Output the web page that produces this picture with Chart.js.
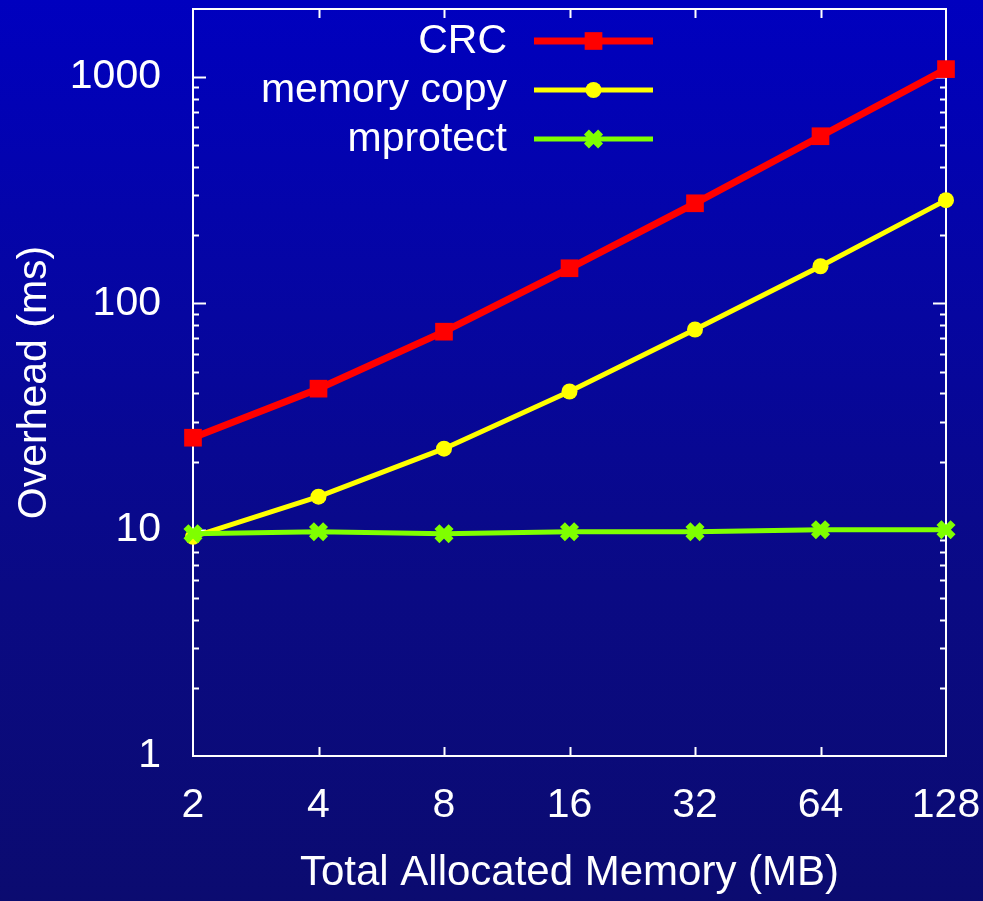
<!DOCTYPE html>
<html>
<head>
<meta charset="utf-8">
<title>Overhead vs Total Allocated Memory</title>
<script src="https://cdn.jsdelivr.net/npm/chart.js@4/dist/chart.umd.min.js"></script>
<style>
  html, body { margin: 0; padding: 0; }
  body {
    width: 983px; height: 901px; overflow: hidden;
    background: linear-gradient(180deg, #0000bf 0%, #0606a0 35%, #0a0a84 65%, #0b0b70 100%);
  }
  #wrap { position: relative; width: 983px; height: 901px; }
</style>
</head>
<body>
<div id="wrap"><canvas id="chart" width="983" height="901"></canvas></div>
<script>
// Overhead (ms) per total allocated memory, log-log style plot
const memorySizes = ['2', '4', '8', '16', '32', '64', '128'];
const crcMs = [25.5, 42, 75, 143, 277, 548, 1085];
const memcpyMs = [9.3, 14, 22.8, 40.8, 76.7, 146, 286];
const mprotectMs = [9.6, 9.8, 9.6, 9.8, 9.8, 10.0, 10.0];
const yTickValues = [1, 10, 100, 1000];
const yMinorValues = [2, 3, 4, 5, 6, 7, 8, 9, 20, 30, 40, 50, 60, 70, 80, 90,
  200, 300, 400, 500, 600, 700, 800, 900, 2000];

const FONT = 'Liberation Sans, Arial, Helvetica, sans-serif';

// gnuplot-like frame: full box, inward ticks on all sides (drawn under the lines)
const framePlugin = {
  id: 'frame',
  beforeDatasetsDraw(chart) {
    const { ctx, chartArea: a, scales } = chart;
    const x = scales.x, y = scales.y;
    ctx.save();
    ctx.strokeStyle = '#ffffff';
    ctx.lineWidth = 2;
    ctx.strokeRect(a.left, a.top, a.right - a.left, a.bottom - a.top);
    ctx.beginPath();
    yTickValues.forEach(v => {
      const py = Math.round(y.getPixelForValue(v)) + 0.5;
      if (py < a.top + 1 || py > a.bottom - 1) return;
      ctx.moveTo(a.left, py); ctx.lineTo(a.left + 13, py);
      ctx.moveTo(a.right, py); ctx.lineTo(a.right - 13, py);
    });
    yMinorValues.forEach(v => {
      const py = Math.round(y.getPixelForValue(v)) + 0.5;
      if (py < a.top + 1) return;
      ctx.moveTo(a.left, py); ctx.lineTo(a.left + 6, py);
      ctx.moveTo(a.right, py); ctx.lineTo(a.right - 6, py);
    });
    memorySizes.forEach((_, i) => {
      const px = Math.round(x.getPixelForValue(i)) + 0.5;
      if (px < a.left + 1 || px > a.right - 1) return;
      ctx.moveTo(px, a.bottom); ctx.lineTo(px, a.bottom - 9);
      ctx.moveTo(px, a.top); ctx.lineTo(px, a.top + 9);
    });
    ctx.stroke();
    ctx.restore();
  }
};

// legend in the top of the plot: right aligned label, line sample, marker
const legendPlugin = {
  id: 'keyBox',
  afterDatasetsDraw(chart) {
    const { ctx } = chart;
    const textRight = 507, lineL = 534, lineR = 653, rowY = [41, 90, 139];
    ctx.save();
    ctx.font = '41px ' + FONT;
    ctx.textAlign = 'right';
    ctx.textBaseline = 'middle';
    chart.data.datasets.forEach((ds, i) => {
      const yy = rowY[i];
      ctx.fillStyle = '#ffffff';
      ctx.fillText(ds.label, textRight, yy + 1);
      ctx.strokeStyle = ds.borderColor;
      ctx.lineWidth = ds.borderWidth;
      ctx.beginPath(); ctx.moveTo(lineL, yy); ctx.lineTo(lineR, yy); ctx.stroke();
      ctx.fillStyle = ds.pointBackgroundColor;
      ctx.strokeStyle = ds.pointBorderColor;
      ctx.lineWidth = ds.pointBorderWidth;
      Chart.helpers.drawPoint(ctx, {
        pointStyle: ds.pointStyle, radius: ds.pointRadius, borderWidth: ds.pointBorderWidth
      }, (lineL + lineR) / 2, yy);
    });
    ctx.restore();
  }
};

const chart = new Chart(document.getElementById('chart').getContext('2d'), {
  type: 'line',
  data: {
    labels: memorySizes,
    datasets: [
      { label: 'CRC', data: crcMs, borderColor: '#ff0000', backgroundColor: '#ff0000',
        borderWidth: 7, pointStyle: 'rect', pointRadius: 12.5, pointBackgroundColor: '#ff0000',
        pointBorderColor: '#ff0000', pointBorderWidth: 0, order: 3, clip: false },
      { label: 'memory copy', data: memcpyMs, borderColor: '#ffff00', backgroundColor: '#ffff00',
        borderWidth: 5, pointStyle: 'circle', pointRadius: 8, pointBackgroundColor: '#ffff00',
        pointBorderColor: '#ffff00', pointBorderWidth: 0, order: 2, clip: false },
      { label: 'mprotect', data: mprotectMs, borderColor: '#7fff00', backgroundColor: '#7fff00',
        borderWidth: 5, pointStyle: 'crossRot', pointRadius: 10, pointBackgroundColor: '#7fff00',
        pointBorderColor: '#7fff00', pointBorderWidth: 7, order: 1, clip: false }
    ]
  },
  options: {
    responsive: false,
    animation: false,
    devicePixelRatio: 1,
    layout: { autoPadding: false, padding: { left: 0, right: 37, top: 9, bottom: 0 } },
    elements: { line: { tension: 0 } },
    plugins: { legend: { display: false }, tooltip: { enabled: false } },
    scales: {
      x: {
        type: 'category',
        offset: false,
        grid: { display: false, drawTicks: false },
        border: { display: false },
        ticks: { color: '#ffffff', font: { family: FONT, size: 41 }, padding: 25, maxRotation: 0, autoSkip: false },
        title: { display: true, text: 'Total Allocated Memory (MB)', color: '#ffffff',
          font: { family: FONT, size: 42 }, padding: { top: 0, bottom: 2 } },
        afterFit(scale) {
          scale.height = 145;
          scale.paddingLeft = 0; scale.paddingRight = 0;
        }
      },
      y: {
        type: 'logarithmic',
        min: 1,
        max: 2000,
        grid: { display: false, drawTicks: false },
        border: { display: false },
        afterBuildTicks(scale) { scale.ticks = yTickValues.map(v => ({ value: v })); },
        ticks: { color: '#ffffff', font: { family: FONT, size: 41 }, padding: 32,
          callback: v => String(v) },
        title: { display: true, text: 'Overhead (ms)', color: '#ffffff',
          font: { family: FONT, size: 41 }, padding: { top: 10, bottom: 0 } },
        afterFit(scale) {
          scale.width = 193;
          scale.paddingTop = 0; scale.paddingBottom = 0;
        }
      }
    }
  },
  plugins: [framePlugin, legendPlugin]
});
</script>
</body>
</html>
